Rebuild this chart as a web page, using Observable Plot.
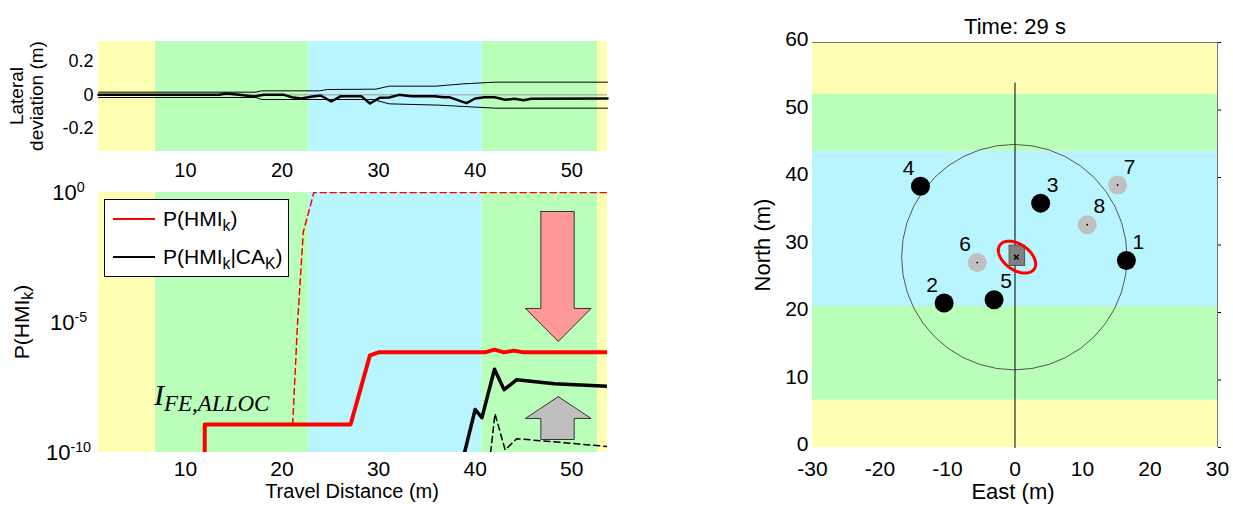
<!DOCTYPE html>
<html><head><meta charset="utf-8">
<script src="https://cdn.jsdelivr.net/npm/d3@7"></script>
<script src="https://cdn.jsdelivr.net/npm/@observablehq/plot@0.6"></script>
<style>
body{margin:0;background:#fff;}
#root{position:relative;width:1233px;height:506px;overflow:hidden;font-family:"Liberation Sans",Arial,sans-serif;color:#000;}
.pl{position:absolute;}
.lbl{position:absolute;white-space:nowrap;line-height:1;}
.rot{transform:translate(-50%,-50%) rotate(-90deg);text-align:center;}
.ctr{transform:translate(-50%,-50%);}
sub{font-size:0.75em;vertical-align:-0.3em;line-height:0;}
#legend{position:absolute;left:104px;top:199px;width:185px;height:78px;box-sizing:border-box;border:1px solid #000;background:#fff;font-size:21px;}
.lgrow{position:absolute;left:8px;display:flex;align-items:center;}
.lgline{width:42px;height:0;border-top:2px solid;margin-right:8px;}
</style></head><body><div id="root"></div>
<script>
// ---------- data: travel distance panels ----------
const zoneColor = {yellow: "#ffffb3", green: "#b9ffb9", cyan: "#b9f5ff"};
const travelBandStart = [1, 6.9, 22.8, 40.7, 52.7];
const travelBandEnd   = [6.9, 22.8, 40.7, 52.7, 53.7];
const travelBandZone  = ["yellow", "green", "cyan", "green", "yellow"];
const travelTicks = [10, 20, 30, 40, 50];

const latTicks = [-0.2, 0, 0.2];
const latUpperX = [1, 17.3, 17.9, 23.9, 24.7, 29.7, 31.1, 35.9, 38.8, 42.1, 53.7];
const latUpperY = [0.016, 0.016, 0.024, 0.024, 0.032, 0.034, 0.052, 0.052, 0.066, 0.076, 0.076];
const latLowerX = [1, 17.3, 17.9, 29.4, 31.1, 36.3, 38.8, 42.1, 53.7];
const latLowerY = [-0.016, -0.016, -0.028, -0.028, -0.054, -0.062, -0.07, -0.08, -0.08];
const devX = [1, 13.5, 14.2, 15.6, 17.1, 18.1, 20.2, 21, 22, 23, 24, 25.1, 26.1, 28.2, 29.1, 30.1, 31.1, 32.1, 33.4, 35.8, 36.7, 37.3, 39.1, 40, 41, 42, 43.1, 44.1, 45, 45.8, 53.7];
const devY = [0, 0, 0.008, 0, -0.01, 0, 0, -0.014, -0.022, -0.012, -0.004, -0.04, -0.008, -0.008, -0.052, -0.018, -0.016, 0, -0.008, -0.008, -0.014, -0.014, -0.05, -0.022, -0.014, -0.014, -0.03, -0.024, -0.032, -0.024, -0.022];

const hmiTicks = [1e-10, 1e-5, 1];
const hmiX = [12, 12, 27.1, 29.1, 30, 41, 42, 43, 44, 45, 53.7];
const hmiY = [1e-10, 1.2e-9, 1.2e-9, 5.4e-7, 7.1e-7, 7.1e-7, 9.1e-7, 7.1e-7, 8.3e-7, 7.1e-7, 7.1e-7];
const hmiDashX = [21.1, 21.6, 22.2, 23.3, 53.7];
const hmiDashY = [1.2e-9, 8e-6, 0.03, 1, 1];
const hmiCaX = [38.9, 40, 40.7, 42, 43, 44.3, 48.2, 53.7];
const hmiCaY = [1e-10, 4.5e-9, 2.2e-9, 1.6e-7, 2.6e-8, 6.3e-8, 4.4e-8, 3.5e-8];
const hmiCaDashX = [41.6, 42.05, 43.1, 44.3, 48, 53.7];
const hmiCaDashY = [1e-10, 3.1e-9, 1.26e-10, 3.4e-10, 2.6e-10, 1.7e-10];

const downArrowX = [46.8, 50.25, 50.25, 52.0, 48.6, 45.2, 46.8, 46.8];
const downArrowY = [0.186, 0.186, 3.47e-5, 3.47e-5, 1.86e-6, 3.47e-5, 3.47e-5, 0.186];
const upArrowX = [48.6, 52.0, 50.25, 50.25, 46.8, 46.8, 45.2, 48.6];
const upArrowY = [1.41e-8, 2.04e-9, 2.04e-9, 3.16e-10, 3.16e-10, 2.04e-9, 2.04e-9, 1.41e-8];

// ---------- data: map panel ----------
const mapTicks = [-30, -20, -10, 0, 10, 20, 30];
const northTicks = [0, 10, 20, 30, 40, 50, 60];
const northBandStart = [0, 7, 20.9, 43.9, 52.3];
const northBandEnd   = [7, 20.9, 43.9, 52.3, 60];
const northBandZone  = ["yellow", "green", "cyan", "green", "yellow"];
const landmarkId = ["1", "2", "3", "4", "5", "6", "7", "8"];
const landmarkE  = [16.5, -10.5, 3.8, -14.0, -3.1, -5.6, 15.2, 10.7];
const landmarkN  = [27.7, 21.4, 36.2, 38.7, 21.9, 27.4, 38.9, 33.0];
const landmarkUsed = [true, true, true, true, true, false, false, false];
const landmarkLabelLeft = ["2", "4", "6"];
const pathE = [0, 0];
const pathN = [0, 54];
const rangeCenter = [-0.1, 28.2];
const rangeRadius = 16.7;
const vehicleE = [-0.8, 1.5];
const vehicleN = [26.9, 29.9];
const ellipseCenter = [0.3, 28.2];
const ellipseAxes = [3.1, 1.9];
const ellipseAngleDeg = -35;
const timeTitle = "Time: 29 s";

// ---------- helpers ----------
const zip = (xs, ys) => xs.map((x, i) => ({x, y: ys[i]}));
const FONT = '"Liberation Sans", Arial, sans-serif';
const travelBands = travelBandStart.map((s, i) => ({x1: s, x2: travelBandEnd[i], fill: zoneColor[travelBandZone[i]]}));
const northBands = northBandStart.map((s, i) => ({y1: s, y2: northBandEnd[i], fill: zoneColor[northBandZone[i]]}));
const root = document.getElementById("root");
function place(el, left, top) {
  const d = document.createElement("div");
  d.className = "pl"; d.style.left = left + "px"; d.style.top = top + "px";
  d.append(el); root.append(d);
}

// ---------- top-left: lateral deviation ----------
const topPlot = Plot.plot({
  width: 640, height: 180, marginLeft: 98, marginRight: 33, marginTop: 41, marginBottom: 29,
  style: {background: "transparent", fontFamily: FONT, fontSize: "19px", color: "#000", overflow: "visible"},
  x: {domain: [1, 53.7]}, y: {domain: [-0.34, 0.32]}, color: {type: "identity"},
  marks: [
    Plot.rect(travelBands, {x1: "x1", x2: "x2", fill: "fill"}),
    Plot.ruleY([0], {stroke: "#999", strokeWidth: 1}),
    Plot.line(zip(latUpperX, latUpperY), {x: "x", y: "y", stroke: "#000", strokeWidth: 1}),
    Plot.line(zip(latLowerX, latLowerY), {x: "x", y: "y", stroke: "#000", strokeWidth: 1}),
    Plot.line(zip(devX, devY), {x: "x", y: "y", stroke: "#000", strokeWidth: 2.5}),
    Plot.axisX({ticks: travelTicks, tickSize: 0, tickPadding: 11, label: null, fontSize: 20}),
    Plot.axisY({ticks: latTicks, tickSize: 0, tickPadding: 5, tickFormat: d => String(d), label: null, fontSize: 18})
  ]
});
place(topPlot, 0, 0);

// ---------- bottom-left: P(HMI) ----------
const botPlot = Plot.plot({
  width: 640, height: 326, marginLeft: 98, marginRight: 33, marginTop: 12, marginBottom: 54,
  style: {background: "transparent", fontFamily: FONT, fontSize: "21px", color: "#000", overflow: "visible"},
  x: {domain: [1, 53.7]}, y: {type: "log", domain: [1e-10, 1]}, color: {type: "identity"},
  marks: [
    Plot.rect(travelBands, {x1: "x1", x2: "x2", fill: "fill"}),
    Plot.line(zip(downArrowX, downArrowY), {x: "x", y: "y", fill: "#ff9999", stroke: "#333", strokeWidth: 1}),
    Plot.line(zip(upArrowX, upArrowY), {x: "x", y: "y", fill: "#bfbfbf", stroke: "#333", strokeWidth: 1}),
    Plot.line(zip(hmiDashX, hmiDashY), {x: "x", y: "y", stroke: "#ff0000", strokeWidth: 1.5, strokeDasharray: "6,4", clip: true}),
    Plot.line(zip(hmiCaDashX, hmiCaDashY), {x: "x", y: "y", stroke: "#000", strokeWidth: 1.5, strokeDasharray: "6,4", clip: true}),
    Plot.line(zip(hmiX, hmiY), {x: "x", y: "y", stroke: "#ff0000", strokeWidth: 4, clip: true}),
    Plot.line(zip(hmiCaX, hmiCaY), {x: "x", y: "y", stroke: "#000", strokeWidth: 3.5, clip: true}),
    Plot.axisX({ticks: travelTicks, tickSize: 0, tickPadding: 9, label: null, fontSize: 21}),
    Plot.axisY({ticks: hmiTicks, tickSize: 0, tickPadding: 30, label: null, fontSize: 22,
      tickFormat: d => "10^" + Math.round(Math.log10(d))})
  ]
});
(function supTicks(svg) {
  const ns = "http://www.w3.org/2000/svg";
  svg.querySelectorAll("text").forEach(t => {
    const s = t.textContent;
    if (!s.startsWith("10^")) return;
    const [b, e] = s.split("^");
    t.textContent = "";
    const a = document.createElementNS(ns, "tspan"); a.textContent = b;
    const c = document.createElementNS(ns, "tspan"); c.textContent = e;
    c.setAttribute("dy", "-0.55em"); c.setAttribute("font-size", "0.65em");
    t.append(a, c);
    t.setAttribute("text-anchor", "middle");
  });
})(botPlot);
place(botPlot, 0, 180);

// ---------- right: map ----------
const circlePts = d3.range(0, 41).map(i => {
  const t = i / 40 * 2 * Math.PI;
  return {x: rangeCenter[0] + rangeRadius * Math.cos(t), y: rangeCenter[1] + rangeRadius * Math.sin(t)};
});
const th = ellipseAngleDeg * Math.PI / 180;
const ellipsePts = d3.range(0, 61).map(i => {
  const t = i / 60 * 2 * Math.PI;
  const a = ellipseAxes[0] * Math.cos(t), b = ellipseAxes[1] * Math.sin(t);
  return {x: ellipseCenter[0] + a * Math.cos(th) - b * Math.sin(th), y: ellipseCenter[1] + a * Math.sin(th) + b * Math.cos(th)};
});
const landmarks = landmarkId.map((id, i) => ({id, x: landmarkE[i], y: landmarkN[i], used: landmarkUsed[i], left: landmarkLabelLeft.includes(id)}));

const mapPlot = Plot.plot({
  width: 493, height: 506, marginLeft: 72, marginRight: 16, marginTop: 42, marginBottom: 59,
  style: {background: "transparent", fontFamily: FONT, fontSize: "21px", color: "#000", overflow: "visible"},
  x: {domain: [-30, 30]}, y: {domain: [0, 60]}, color: {type: "identity"},
  marks: [
    Plot.rect(northBands, {y1: "y1", y2: "y2", fill: "fill"}),
    Plot.line(circlePts, {x: "x", y: "y", stroke: "#555", strokeWidth: 1}),
    Plot.line(zip(pathE, pathN), {x: "x", y: "y", stroke: "#000", strokeWidth: 1}),
    Plot.rect([{x1: vehicleE[0], x2: vehicleE[1], y1: vehicleN[0], y2: vehicleN[1]}], {x1: "x1", x2: "x2", y1: "y1", y2: "y2", fill: "#808080", stroke: "#555", strokeWidth: 1}),
    Plot.dot([{x: 0.2, y: 28.2}], {x: "x", y: "y", symbol: "times", r: 2.2, stroke: "#000", strokeWidth: 1.5}),
    Plot.line(ellipsePts, {x: "x", y: "y", stroke: "#ff0000", strokeWidth: 3}),
    Plot.dot(landmarks.filter(d => d.used), {x: "x", y: "y", r: 9.5, fill: "#000", stroke: null}),
    Plot.dot(landmarks.filter(d => !d.used), {x: "x", y: "y", r: 9.5, fill: "#c0c0c0", stroke: null}),
    Plot.dot(landmarks.filter(d => !d.used), {x: "x", y: "y", r: 0.9, fill: "#000", stroke: null}),
    Plot.text(landmarks.filter(d => d.left), {x: "x", y: "y", text: "id", dx: -12, dy: -18, fontSize: 21}),
    Plot.text(landmarks.filter(d => !d.left), {x: "x", y: "y", text: "id", dx: 12, dy: -18, fontSize: 21}),
    Plot.ruleY([60], {stroke: "#777", strokeWidth: 1}),
    Plot.ruleX([30], {stroke: "#777", strokeWidth: 1}),
    Plot.axisY({anchor: "right", ticks: northTicks, tickSize: 3, tickFormat: () => "", label: null}),
    Plot.axisX({ticks: mapTicks, tickSize: 0, tickPadding: 14, tickFormat: d => String(d), label: null, fontSize: 21}),
    Plot.axisY({ticks: northTicks, tickSize: 0, tickPadding: 4, tickFormat: d => String(d), label: null, fontSize: 21, dy: -3}),
    Plot.text([timeTitle], {text: d => d, frameAnchor: "top", dy: -24, fontSize: 22})
  ]
});
place(mapPlot, 740, 0);

// ---------- text overlays ----------
function label(html, cls, x, y, size, extra) {
  const d = document.createElement("div");
  d.className = "lbl " + cls;
  d.style.left = x + "px"; d.style.top = y + "px"; d.style.fontSize = size + "px";
  if (extra) Object.assign(d.style, extra);
  d.innerHTML = html;
  root.append(d);
  return d;
}
label("Lateral<br>deviation (m)", "rot", 27, 96, 19, {lineHeight: "20px"});
label("P(HMI<sub>k</sub>)", "rot", 21, 322, 21);
label("Travel Distance (m)", "ctr", 352, 491, 20);
label("North (m)", "rot", 763, 245, 22);
label("East (m)", "ctr", 1013, 492, 22);
label('<span style="font-size:30px">I</span><span style="font-size:23px;position:relative;top:6px">FE,ALLOC</span>', "", 154, 380, 30,
  {fontFamily: '"Liberation Serif", "Times New Roman", serif', fontStyle: "italic"});

const lg = document.createElement("div");
lg.id = "legend";
lg.innerHTML =
  '<div class="lgrow" style="top:7px"><div class="lgline" style="border-color:#f00"></div><span>P(HMI<sub>k</sub>)</span></div>' +
  '<div class="lgrow" style="top:45px"><div class="lgline" style="border-color:#000"></div><span>P(HMI<sub>k</sub>|CA<sub>K</sub>)</span></div>';
root.append(lg);
</script>
</body></html>
